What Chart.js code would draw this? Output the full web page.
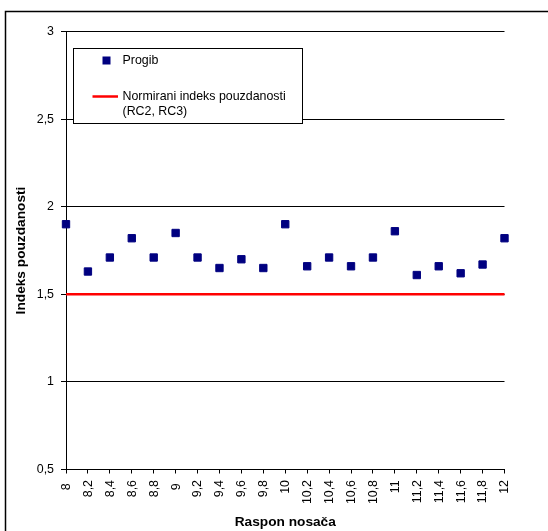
<!DOCTYPE html>
<html>
<head>
<meta charset="utf-8">
<script src="https://cdn.jsdelivr.net/npm/chart.js@4"></script>
<style>
    body { margin: 0; background: #fff; }
    #wrap { position: relative; width: 548px; height: 531px; overflow: hidden; }
</style>
</head>
<body>
<div id="wrap"><canvas id="chart" width="548" height="531"></canvas></div>
<script>
var spans = [8, 8.2, 8.4, 8.6, 8.8, 9, 9.2, 9.4, 9.6, 9.8, 10, 10.2, 10.4, 10.6, 10.8, 11, 11.2, 11.4, 11.6, 11.8, 12];
var progib = [1.90, 1.63, 1.71, 1.82, 1.71, 1.85, 1.71, 1.65, 1.70, 1.65, 1.90, 1.66, 1.71, 1.66, 1.71, 1.86, 1.61, 1.66, 1.62, 1.67, 1.82];
var normX = [8, 12];
var normY = [1.5, 1.5];
var yTicks = [0.5, 1, 1.5, 2, 2.5, 3];

var labelProgib = "Progib";
var labelNorm = "Normirani indeks pouzdanosti\n(RC2, RC3)";
var titleX = "Raspon nosača";
var titleY = "Indeks pouzdanosti";

var fontFam = "'Liberation Sans', Arial, sans-serif";
var navy = "#000080";

function fmt(v) {
    return (Math.round(v * 10) / 10).toString().replace(".", ",");
}

var progibPts = [];
for (i = 0; i < spans.length; i++) {
    progibPts.push({ x: spans[i], y: progib[i] });
}
var normPts = [];
for (i = 0; i < normX.length; i++) {
    normPts.push({ x: normX[i], y: normY[i] });
}

// okvir, legenda i okomiti natpisi osi x
var extras = {
    id: "extras",
    beforeDraw: function (chart) {
        var ctx = chart.ctx;
        ctx.save();
        ctx.strokeStyle = "#000";
        ctx.lineWidth = 1.5;
        ctx.strokeRect(5.5, 11.5, 700, 700);
        ctx.restore();
    },
    afterDraw: function (chart) {
        var ctx = chart.ctx;
        var xs = chart.scales.x;
        ctx.save();
        // natpisi osi x, rotirani (citaju se odozdo prema gore)
        ctx.font = "12.4px " + fontFam;
        ctx.fillStyle = "#000";
        ctx.textAlign = "right";
        ctx.textBaseline = "middle";
        var minW = ctx.measureText("00").width;
        xs.ticks.forEach(function (t) {
            var lbl = fmt(t.value);
            var w = ctx.measureText(lbl).width;
            var px = xs.getPixelForValue(t.value);
            var top = 480 + (w < minW ? (minW - w) / 2 : 0);
            ctx.save();
            ctx.translate(px + 0.5, top);
            ctx.rotate(-Math.PI / 2);
            ctx.fillText(lbl, 0, 0);
            ctx.restore();
        });

        // legenda
        var ds = chart.data.datasets;
        ctx.fillStyle = "#fff";
        ctx.fillRect(73.5, 48.5, 229, 75);
        ctx.strokeStyle = "#000";
        ctx.lineWidth = 1;
        ctx.strokeRect(73.5, 48.5, 229, 75);
        ctx.fillStyle = ds[0].backgroundColor;
        ctx.fillRect(102.5, 56.5, 8, 8);
        ctx.strokeStyle = ds[1].borderColor;
        ctx.lineWidth = 2.5;
        ctx.beginPath();
        ctx.moveTo(92.5, 96.5);
        ctx.lineTo(118, 96.5);
        ctx.stroke();
        ctx.fillStyle = "#000";
        ctx.textAlign = "left";
        ctx.fillText(ds[0].label, 122.5, 61);
        var lines = ds[1].label.split("\n");
        for (i = 0; i < lines.length; i++) {
            ctx.fillText(lines[i], 122.5, 97 + i * 15);
        }
        ctx.restore();
    }
};

var ctx = document.getElementById("chart");
var myChart = new Chart(ctx, {
    type: "scatter",
    data: {
        datasets: [{
            label: labelProgib,
            data: progibPts,
            backgroundColor: navy,
            borderColor: navy,
            borderWidth: 1,
            pointStyle: "rect",
            pointRadius: 5.2,
            pointHoverRadius: 5.2,
            clip: false
        }, {
            label: labelNorm,
            type: "line",
            data: normPts,
            borderColor: "#ff0000",
            borderWidth: 2.5,
            pointRadius: 0,
            fill: false,
            clip: false
        }]
    },
    plugins: [extras],
    options: {
        responsive: false,
        animation: false,
        events: [],
        layout: { padding: { left: 0, top: 31.5, right: 43.5, bottom: 0 } },
        plugins: {
            legend: { display: false },
            tooltip: { enabled: false }
        },
        scales: {
            x: {
                type: "linear",
                min: spans[0],
                max: spans[spans.length - 1],
                afterFit: function (s) { s.height = 61.5; },
                border: { color: "#000", width: 1 },
                grid: { drawOnChartArea: false, drawTicks: true, tickLength: 4, color: "#000" },
                ticks: {
                    stepSize: 0.2,
                    autoSkip: false,
                    minRotation: 90,
                    maxRotation: 90,
                    color: "rgba(0,0,0,0)",
                    font: { family: fontFam, size: 12.4 },
                    callback: function (v) { return fmt(v); }
                },
                title: {
                    display: true,
                    text: titleX,
                    color: "#000",
                    font: { family: fontFam, size: 13.7, weight: "bold" },
                    padding: { top: 0, bottom: 0.8 }
                }
            },
            y: {
                min: yTicks[0],
                max: yTicks[yTicks.length - 1],
                afterFit: function (s) { s.width = 66; },
                border: { color: "#000", width: 1 },
                grid: { color: "#000", lineWidth: 1, tickLength: 5 },
                afterBuildTicks: function (s) {
                    s.ticks = yTicks.map(function (v) { return { value: v }; });
                },
                ticks: {
                    padding: 7,
                    color: "#000",
                    font: { family: fontFam, size: 12.4 },
                    callback: function (v) { return fmt(v); }
                },
                title: {
                    display: true,
                    text: titleY,
                    color: "#000",
                    font: { family: fontFam, size: 13.7, weight: "bold" },
                    padding: { top: 12.8, bottom: 0 }
                }
            }
        }
    }
});
</script>
</body>
</html>
